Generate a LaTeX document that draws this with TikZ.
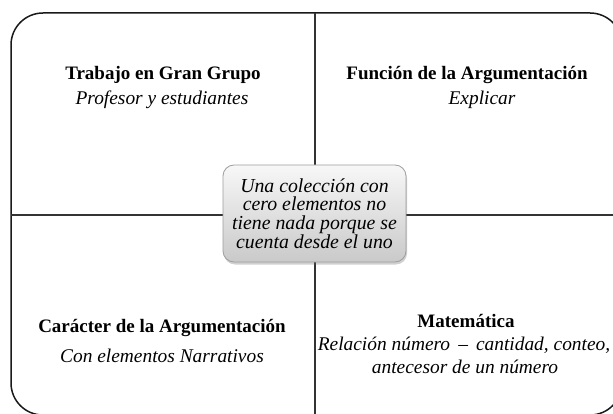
\documentclass[tikz,border=0pt]{standalone}
\usepackage{fontspec}
\setmainfont{Liberation Serif}
\usetikzlibrary{shadows}
\begin{document}
\begin{tikzpicture}[x=1pt,y=-1pt,
  divider/.style={line width=1.4pt,draw=black!80},
  frame/.style={line width=1.5pt,draw=black!90,rounded corners=32pt},
  head/.style={font=\fontsize{19}{21}\selectfont\bfseries,inner sep=0pt,anchor=center},
  sub/.style={font=\fontsize{19.4}{21}\selectfont\itshape,inner sep=0pt,anchor=center,align=center},
  centrebox/.style={draw=black!38,line width=0.8pt,rounded corners=11pt,
    top color=black!3,bottom color=black!21,
    drop shadow={shadow xshift=1pt,shadow yshift=-2.5pt,opacity=0.3,fill=black!60},
    minimum width=183pt,minimum height=97pt,inner sep=0pt,align=center,
    font=\fontsize{19.8}{18.8}\selectfont\itshape}]
\useasboundingbox (0,0) rectangle (613,414);
\fill[white] (0,0) rectangle (613,414);
\coordinate (top) at (315,13);
\coordinate (bot) at (315,415);
\coordinate (lft) at (11,215);
\coordinate (rgt) at (622,215);
\begin{scope}
\clip (0,0) rectangle (613,414);
\draw[frame] (11,13) rectangle (622,415);
\draw[divider] (top) -- (bot);
\draw[divider] (lft) -- (rgt);
\end{scope}
\node[centrebox] (c) at (314.5,213.5) {Una colección con\\cero elementos no\\tiene nada porque se\\cuenta desde el uno};
\node[head] (tlh) at (163,75) {Trabajo en Gran Grupo};
\node[sub] (tls) at (162,100) {Profesor y estudiantes};
\node[head] (trh) at (467,75) {Función de la Argumentación};
\node[sub] (trs) at (482,100) {Explicar};
\node[head] (blh) at (162,328) {Carácter de la Argumentación};
\node[sub] (bls) at (162,356) {Con elementos Narrativos};
\node[head] (brh) at (466,321) {Matemática};
\node[sub] (brs1) at (464,345) {Relación número \,–\, cantidad, conteo,};
\node[sub] (brs2) at (465,367) {antecesor de un número};
\end{tikzpicture}
\end{document}
